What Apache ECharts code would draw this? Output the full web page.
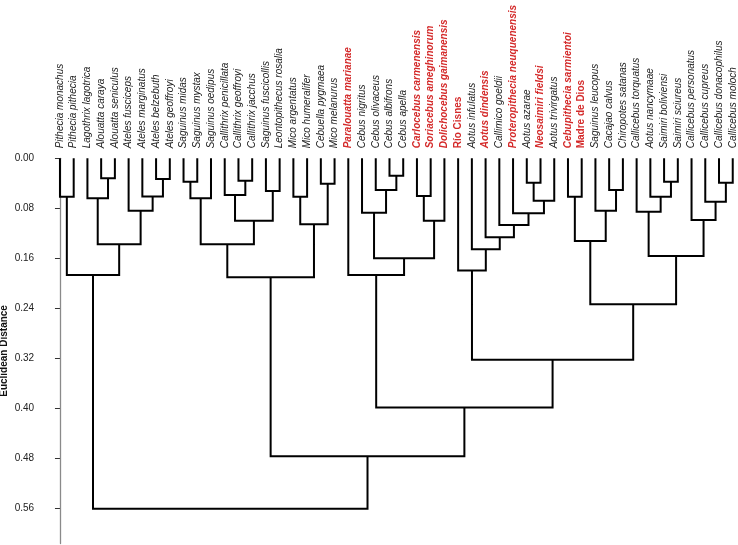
<!DOCTYPE html>
<html>
<head>
<meta charset="utf-8">
<script src="https://cdn.jsdelivr.net/npm/echarts@6/dist/echarts.min.js"></script>
<style>
html,body{margin:0;padding:0;background:#fff;}
#chart{width:738px;height:545px;}
</style>
</head>
<body>
<div id="chart"></div>
<script>
// Leaf labels (left to right)
const leaves = [
  'Pithecia monachus','Pithecia pithecia','Lagothrix lagotrica','Alouatta caraya','Alouatta seniculus',
  'Ateles fusciceps','Ateles marginatus','Ateles belzebuth','Ateles geoffroyi','Saguinus midas',
  'Saguinus mystax','Saguinus oedipus','Callithrix penicillata','Callithrix geoffroyi','Callithrix jacchus',
  'Saguinus fuscicollis','Leontopithecus rosalia','Mico argentatus','Mico humeralifer','Cebuella pygmaea',
  'Mico melanurus','Paralouatta marianae','Cebus nigritus','Cebus olivaceus','Cebus albifrons',
  'Cebus apella','Carlocebus carmenensis','Soriacebus ameghinorum','Dolichocebus gaimanensis','Río Cisnes',
  'Aotus infulatus','Aotus dindensis','Callimico goeldii','Proteropithecia neuquenensis','Aotus azarae',
  'Neosaimiri fieldsi','Aotus trivirgatus','Cebupithecia sarmientoi','Madre de Dios','Saguinus leucopus',
  'Cacajao calvus','Chiropotes satanas','Callicebus torquatus','Aotus nancymaae','Saimiri boliviensi',
  'Saimiri sciureus','Callicebus personatus','Callicebus cupreus','Callicebus donacophilus','Callicebus moloch'
];
// Fossil taxa / localities highlighted in red
const fossilLeaves = ['Paralouatta marianae','Carlocebus carmenensis','Soriacebus ameghinorum','Dolichocebus gaimanensis',
  'Río Cisnes','Aotus dindensis','Proteropithecia neuquenensis','Neosaimiri fieldsi','Cebupithecia sarmientoi','Madre de Dios'];
// Locality names (not italic)
const localityLeaves = ['Río Cisnes','Madre de Dios'];

// Merges: [childA, childB, distance]; ids 0..49 are leaves, 50+ are clusters in order
const mergeA = [0,3,2,7,6,5,52,50, 9,58,13,12,15,61,59,17,19,65,64, 24,23,22,26,72,71,21, 34,76,33,32,31,30,29, 37,40,39,83,44,43,42,48,47,46,89,86,82,75,68,57];
const mergeB = [1,4,51,8,53,54,55,56, 10,11,14,60,16,62,63,18,20,66,67, 25,69,70,27,28,73,74, 35,36,77,78,79,80,81, 38,41,84,85,45,87,88,49,90,91,92,93,94,95,96,97];
const mergeH = [0.0613,0.032,0.064,0.033,0.061,0.084,0.1375,0.1865,
  0.0373,0.064,0.0357,0.0587,0.0523,0.0997,0.1375,0.0613,0.0405,0.1055,0.190,
  0.0278,0.0507,0.087,0.0603,0.0997,0.16,0.1865,
  0.039,0.0677,0.088,0.1066,0.1263,0.1455,0.1796,
  0.0613,0.0507,0.084,0.1322,0.0373,0.0613,0.0853,0.039,0.0693,0.0986,0.1561,0.2333,0.3223,0.3986,0.4764,0.5605];

const yTicks = [0,0.08,0.16,0.24,0.32,0.40,0.48,0.56];

// Build node positions (leaf index units) and heights
const pos = leaves.map((_, i) => i);
const ht = leaves.map(() => 0);
const links = [];
for (let k = 0; k < mergeH.length; k++) {
  const a = mergeA[k], b = mergeB[k], h = mergeH[k];
  links.push([pos[a], ht[a], pos[b], ht[b], h]);
  pos.push((pos[a] + pos[b]) / 2);
  ht.push(h);
}

const RED = '#d42a2a';
const FONT = 'Liberation Sans, Arial, sans-serif';
const catData = leaves.map(n => {
  const red = fossilLeaves.includes(n);
  return {
    value: n,
    textStyle: {
      color: red ? RED : '#222',
      fontWeight: red ? 'bold' : 'normal',
      fontStyle: localityLeaves.includes(n) ? 'normal' : 'italic'
    }
  };
});

const chart = echarts.init(document.getElementById('chart'), null, {renderer: 'canvas'});
const PX = 625.4;
const gridTop = 158.3, yMax = 0.616;
chart.setOption({
  animation: false,
  backgroundColor: '#fff',
  grid: {left: 53.1, top: gridTop, width: 686.5, height: yMax * PX, containLabel: false, outerBoundsMode: 'none'},
  xAxis: [
    {
      type: 'category', position: 'top', data: catData,
      axisLine: {show: false}, axisTick: {show: false}, splitLine: {show: false},
      axisLabel: {rotate: 90, interval: 0, margin: 10, fontSize: 10, fontFamily: FONT, color: '#222', fontStyle: 'italic'}
    },
    {type: 'value', min: -0.5, max: 49.5, show: false}
  ],
  yAxis: {
    type: 'value', inverse: true, min: 0, max: yMax, offset: 9,
    name: 'Euclidean Distance', nameLocation: 'middle', nameRotate: 90, nameGap: 35, nameMoveOverlap: false,
    nameTextStyle: {fontSize: 10, fontWeight: 'bold', fontFamily: FONT, color: '#111'},
    axisLine: {show: true, lineStyle: {color: '#8a8a8a', width: 1.3}},
    axisTick: {show: true, length: 5, customValues: yTicks, lineStyle: {color: '#333', width: 1}},
    axisLabel: {customValues: yTicks, margin: 10, fontSize: 10, fontFamily: FONT, color: '#222',
      formatter: v => v.toFixed(2)},
    splitLine: {show: false}
  },
  series: [{
    type: 'custom',
    xAxisIndex: 1,
    data: links,
    encode: {x: [0, 2], y: [1, 3, 4]},
    renderItem: function (params, api) {
      const p1 = api.coord([api.value(0), api.value(1)]);
      const p1t = api.coord([api.value(0), api.value(4)]);
      const p2t = api.coord([api.value(2), api.value(4)]);
      const p2 = api.coord([api.value(2), api.value(3)]);
      return {
        type: 'polyline',
        shape: {points: [p1, p1t, p2t, p2]},
        style: {stroke: '#000', lineWidth: 2, fill: null, lineJoin: 'miter'}
      };
    }
  }]
});
</script>
</body>
</html>
